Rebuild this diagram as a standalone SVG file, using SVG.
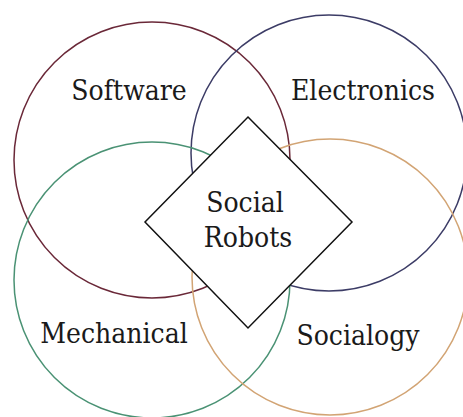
<svg xmlns="http://www.w3.org/2000/svg" width="463" height="417" viewBox="0 0 463 417">
<style>
.c{fill:none;stroke-width:1.5}
.t{font-family:'DejaVu Serif Condensed','DejaVu Serif',serif;font-stretch:condensed;font-size:28px;fill:#1a1a1a;text-anchor:middle}
</style>
<rect width="463" height="417" fill="#ffffff"/>
<g id="software"><circle class="c" cx="152" cy="160" r="138" stroke="#6a2838"/><text class="t" x="129" y="100">Software</text></g>
<g id="electronics"><circle class="c" cx="329" cy="153" r="138" stroke="#3c3c66"/><text class="t" x="363" y="100">Electronics</text></g>
<g id="mechanical"><circle class="c" cx="152" cy="280" r="138" stroke="#4a9274"/><text class="t" x="114" y="343">Mechanical</text></g>
<g id="socialogy"><circle class="c" cx="330" cy="277" r="138" stroke="#d2a474"/><text class="t" x="358" y="345">Socialogy</text></g>
<g id="social-robots"><polygon points="248,117 352,222 248,328 145,222" fill="#ffffff" stroke="#111111" stroke-width="1.5"/><text class="t" x="245" y="212">Social</text><text class="t" x="248" y="247">Robots</text></g>
</svg>
